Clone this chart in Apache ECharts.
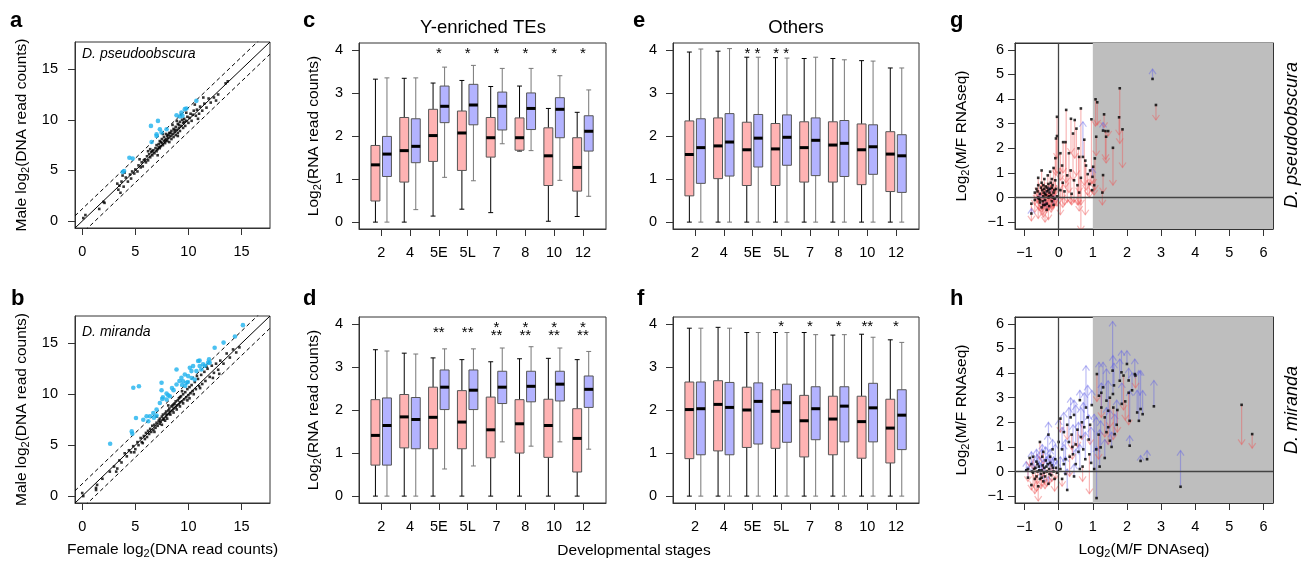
<!DOCTYPE html>
<html><head><meta charset="utf-8">
<script src="https://cdn.jsdelivr.net/npm/echarts@6/dist/echarts.min.js"></script>
<style>html,body{margin:0;padding:0;background:#fff}#c{width:1311px;height:562px}</style>
</head><body><div id="c"></div>
<script>
// ---------------- DATA ----------------
const stages = ['2','4','5E','5L','7','8','10','12'];
const scatterTicks = [0,5,10,15];
const boxTicks = [0,1,2,3,4];
const ratioTicks = [-1,0,1,2,3,4,5,6];

// panel a: D. pseudoobscura, [female, male] log2 DNA read counts
const aOther = [[0.1,0.3],[0.3,0.6],[1.6,1.2],[2.0,1.9],[3.3,3.7],[3.4,3.1],[3.6,2.8],[3.7,3.9],[3.9,3.4],[4.1,4.3],[4.3,3.9],[4.5,4.6],[4.6,4.2],[4.7,4.9],[4.9,4.7],[5.0,5.1],[5.2,4.9],[5.3,5.5],[5.5,5.3],[5.6,5.8],[5.7,5.4],[5.9,6.1],[6.0,5.8],[6.1,6.4],[6.2,6.0],[6.3,6.6],[6.4,6.3],[6.5,6.8],[6.6,6.5],[6.7,7.0],[6.8,6.7],[6.9,7.2],[7.0,6.9],[7.0,7.5],[7.1,7.1],[7.2,7.6],[7.3,7.2],[7.3,7.9],[7.4,7.4],[7.5,7.7],[7.5,8.1],[7.6,7.5],[7.7,7.9],[7.7,8.3],[7.8,7.7],[7.9,8.1],[7.9,8.6],[8.0,7.9],[8.0,8.4],[8.1,8.2],[8.2,8.7],[8.2,7.8],[8.3,8.4],[8.4,8.9],[8.4,8.1],[8.5,8.6],[8.6,9.1],[8.6,8.3],[8.7,8.8],[8.8,9.3],[8.8,8.5],[8.9,9.0],[9.0,9.6],[9.0,8.7],[9.1,9.2],[9.2,9.8],[9.2,8.9],[9.3,9.4],[9.4,10.0],[9.5,9.2],[9.5,9.7],[9.6,10.1],[9.7,9.4],[9.8,9.9],[9.9,10.3],[10.0,9.7],[10.1,10.2],[10.2,10.6],[10.3,9.9],[10.4,10.5],[10.5,10.9],[10.7,10.4],[10.8,11.0],[11.0,10.6],[11.1,11.3],[11.3,10.9],[11.5,11.6],[11.7,11.2],[11.9,12.1],[12.1,11.7],[12.4,12.2],[12.6,11.9],[13.5,13.6],[13.7,13.8],[6.4,7.1],[7.1,6.5],[8.5,9.5],[9.3,10.5],[5.4,6.1],[4.0,4.8],[3.8,4.5],[10.6,11.5],[9.8,10.7],[11.4,12.2],[7.6,8.6],[8.9,9.9],[6.2,6.9],[3.5,3.5],[2.1,1.8],[12.8,12.5],[10.9,10.1],[9.0,8.4],[7.2,7.3],[7.8,8.0],[8.3,8.7],[8.7,9.0],[9.1,9.5],[6.6,6.9],[5.8,6.0],[7.4,7.8],[8.1,8.5],[9.6,9.8]];
const aYTE = [[3.81,4.85],[3.94,4.95],[4.44,6.26],[4.75,6.17],[6.47,9.40],[7.13,9.89],[6.53,7.81],[7.0,8.4],[7.31,9.07],[7.47,8.74],[7.94,9.07],[7.0,8.57],[8.88,10.45],[9.34,10.72],[9.19,10.32],[9.66,11.05],[9.81,11.11],[10.75,11.87],[9.44,10.39]];

// panel b: D. miranda
const bOther = [[0.0,0.3],[0.1,0.0],[1.3,0.8],[1.4,1.1],[1.3,0.6],[1.9,1.7],[2.6,2.4],[3.0,2.9],[3.3,2.7],[3.5,3.5],[3.7,3.3],[4.0,4.2],[4.2,3.9],[4.4,4.5],[4.6,4.3],[4.8,4.9],[5.0,4.6],[5.2,5.3],[5.3,5.0],[5.5,5.7],[5.6,5.3],[5.8,5.9],[5.9,5.6],[6.0,6.2],[6.1,5.8],[6.2,6.4],[6.3,6.1],[6.4,6.6],[6.5,6.3],[6.6,6.9],[6.7,6.5],[6.8,7.0],[6.9,6.7],[7.0,7.2],[7.1,6.9],[7.2,7.4],[7.3,7.1],[7.3,7.6],[7.4,7.3],[7.5,7.8],[7.6,7.5],[7.6,8.0],[7.7,7.6],[7.8,8.1],[7.9,7.8],[7.9,8.3],[8.0,8.0],[8.1,8.4],[8.2,8.1],[8.2,8.6],[8.3,8.3],[8.4,8.8],[8.5,8.4],[8.5,8.9],[8.6,8.6],[8.7,9.1],[8.8,8.7],[8.8,9.3],[8.9,8.9],[9.0,9.4],[9.1,9.0],[9.1,9.6],[9.2,9.2],[9.3,9.8],[9.4,9.3],[9.5,10.0],[9.6,9.5],[9.7,10.2],[9.8,9.7],[9.9,10.5],[10.0,9.9],[10.1,10.7],[10.2,10.1],[10.3,10.9],[10.4,10.3],[10.6,11.2],[10.7,10.5],[10.9,11.5],[11.0,10.8],[11.2,11.9],[11.3,11.0],[11.5,12.2],[11.6,11.3],[11.8,12.5],[12.0,11.7],[12.2,12.8],[12.4,12.1],[12.6,13.0],[12.8,12.4],[13.0,13.3],[13.3,13.0],[13.6,14.0],[13.9,13.6],[14.2,14.4],[14.5,14.1],[14.8,14.6],[8.0,7.6],[8.6,8.2],[9.2,8.8],[9.9,9.4],[10.5,10.0],[11.1,10.6],[12.3,11.6],[12.9,12.0],[7.5,7.0],[6.8,6.3],[5.7,5.2],[4.9,4.3],[3.2,2.4],[8.1,8.9],[9.4,10.3],[10.8,11.8],[11.7,12.7],[7.0,7.8],[8.3,8.0],[8.9,8.5],[9.5,9.1],[10.1,9.6],[7.8,7.4],[8.6,9.0],[9.2,9.7]];
const bYTE = [[2.63,5.13],[4.81,10.63],[5.34,10.79],[5.06,7.66],[4.66,6.35],[4.72,6.12],[5.75,7.5],[6.06,7.83],[6.38,7.83],[6.22,7.34],[6.69,8.16],[7.0,8.49],[7.31,9.14],[7.53,9.54],[7.47,10.39],[7.47,11.12],[7.94,10.07],[7.94,9.47],[8.25,9.8],[8.88,10.95],[8.88,12.43],[9.34,11.61],[9.5,11.28],[9.66,11.94],[9.81,11.12],[9.97,11.78],[10.13,12.6],[10.28,12.27],[10.44,12.76],[10.59,11.45],[10.75,12.27],[10.91,13.26],[11.06,12.76],[11.22,12.43],[11.38,12.93],[11.94,13.42],[12.0,13.09],[12.47,14.57],[13.31,15.07],[14.38,15.66],[15.13,16.78],[9.15,11.3],[9.4,10.9],[9.7,10.8],[10.3,11.6],[9.95,11.2],[8.6,10.4],[8.45,10.6],[8.1,9.9],[7.6,9.7],[7.0,7.9],[6.75,7.7],[11.05,13.3],[11.55,12.8],[11.85,13.1]];

// panels c-f: [min, q1, median, q3, max] per stage
const cFemale = [[0,0.49,1.33,1.78,3.32],[0,0.93,1.66,2.43,3.34],[0.14,1.41,2.01,2.62,3.23],[0.30,1.20,2.07,2.58,3.29],[0.22,1.51,1.96,2.43,3.15],[1.65,1.67,1.96,2.42,3.16],[0.02,0.85,1.54,2.19,2.64],[0.13,0.72,1.27,1.96,2.55]];
const cMale   = [[0,1.06,1.58,1.99,3.35],[0.29,1.38,1.76,2.40,3.35],[1.04,2.31,2.69,3.16,3.60],[0.96,2.26,2.72,3.20,3.64],[1.82,2.14,2.69,3.02,3.57],[1.66,2.15,2.64,3.00,3.57],[0.97,1.96,2.62,2.89,3.40],[0.60,1.65,2.11,2.47,3.07]];
const dFemale = [[0,0.72,1.41,2.24,3.40],[0,1.12,1.84,2.36,3.32],[0,1.10,1.83,2.53,3.21],[0,1.10,1.72,2.45,3.17],[0,0.89,1.54,2.30,3.12],[0,1.00,1.68,2.24,3.19],[0,0.90,1.64,2.25,3.20],[0,0.56,1.34,2.03,3.17]];
const dMale   = [[0,0.72,1.64,2.28,3.37],[0,1.10,1.78,2.29,3.30],[0.63,2.01,2.53,2.93,3.42],[0.70,2.01,2.46,2.93,3.42],[1.26,2.15,2.53,2.90,3.44],[1.16,2.19,2.55,2.90,3.47],[1.26,2.21,2.60,2.90,3.44],[1.09,2.06,2.48,2.79,3.36]];
const eFemale = [[0,0.61,1.57,2.35,3.95],[0,1.01,1.77,2.42,3.97],[0,0.85,1.68,2.32,3.83],[0,0.85,1.70,2.29,3.82],[0,0.93,1.73,2.33,3.80],[0,0.93,1.79,2.33,3.80],[0,0.87,1.68,2.28,3.75],[0,0.71,1.58,2.10,3.58]];
const eMale   = [[0,0.90,1.73,2.40,4.02],[0,1.07,1.86,2.52,4.03],[0,1.28,1.95,2.50,3.83],[0,1.32,1.97,2.49,3.81],[0,1.08,1.90,2.42,3.83],[0,1.06,1.83,2.36,3.77],[0,1.11,1.75,2.26,3.74],[0,0.69,1.54,2.03,3.58]];
const fFemale = [[0,0.87,2.01,2.65,3.90],[0,1.05,2.13,2.68,3.92],[0,1.13,2.00,2.53,3.80],[0,1.11,1.97,2.47,3.80],[0,0.91,1.75,2.34,3.80],[0,0.96,1.79,2.32,3.74],[0,0.88,1.73,2.32,3.76],[0,0.77,1.58,2.25,3.63]];
const fMale   = [[0,0.96,2.03,2.65,3.90],[0,0.96,2.06,2.64,3.90],[0,1.21,2.20,2.63,3.80],[0,1.25,2.17,2.60,3.80],[0,1.31,2.03,2.54,3.75],[0,1.26,2.09,2.54,3.75],[0,1.26,2.05,2.62,3.69],[0,1.08,1.88,2.47,3.57]];

// significance stars: [stage number, y, text]
const cStars = [[3,4.0,'*'],[4,4.0,'*'],[5,4.0,'*'],[6,4.0,'*'],[7,4.0,'*'],[8,4.0,'*']];
const dStars = [[3,3.88,'**'],[4,3.88,'**'],[5,3.99,'*'],[5,3.81,'**'],[6,3.99,'*'],[6,3.81,'**'],[7,3.99,'*'],[7,3.81,'**'],[8,3.99,'*'],[8,3.81,'**']];
const eStars = [[3,4.0,'* *'],[4,4.0,'* *']];
const fStars = [[4,4.01,'*'],[5,4.01,'*'],[6,4.01,'*'],[7,4.01,'**'],[8,4.01,'*']];

// panels g,h: [log2 M/F DNAseq, log2 M/F RNAseq, arrow end]
const gPoints = [[2.75,4.82,5.22],[2.85,3.76,3.15],[1.79,4.44,2.2],[1.77,3.26,2.55],[1.87,2.77,1.22],[1.59,2.02,0.5],[1.08,3.99,2.9],[1.13,3.87,2.95],[1.33,3.38,2.85],[1.30,2.72,3.05],[1.37,2.70,1.55],[1.45,2.70,2.5],[1.39,2.47,1.4],[1.30,0.91,0.2],[1.28,0.2,-0.3],[1.10,2.47,1.7],[1.06,1.59,0.3],[1.01,1.25,0.55],[0.96,3.18,0.55],[0.99,0.84,1.2],[1.04,0.5,0.1],[0.98,0.3,0.2],
[-0.05,3.28,1.6],[0.22,3.56,0.6],[0.65,3.62,-1.35],[0.36,3.2,1.8],[0.47,3.15,1.6],[0.71,1.65,3.08],[0.13,2.25,1.0],[0.2,2.25,0.4],[0.42,2.6,0.7],[0.52,2.8,0.9],[0.6,1.65,0.2],[0.58,2.0,-0.3],[0.78,1.5,-0.7],[0.8,1.3,0.3],[0.85,0.95,0.1],[0.9,0.55,0.0],[0.75,2.35,0.5],[0.3,1.8,0.2],[0.05,1.8,0.7],[-0.05,2.5,1.0],[-0.08,2.4,0.9],[-0.1,1.6,0.2],[0.1,1.3,-0.1],[0.25,0.9,-0.2],[0.35,1.1,-0.25],[0.45,0.7,-0.2],[0.55,0.5,-0.3],[0.65,0.8,-0.3],[0.02,1.0,0.3],[0.12,0.6,-0.4],[0.05,0.3,-0.7],[-0.15,1.2,0.3],[-0.2,0.75,0.0],[0.17,0.25,-0.3],[0.38,0.15,-0.3],[0.6,0.2,-0.55],[0.92,1.1,0.5],
[-0.8,-0.25,-0.95],[-0.8,-0.65,-0.45],[-0.7,0.2,-0.3],[-0.65,0.35,-0.1],[-0.6,0.0,-0.85],[-0.6,0.5,0.0],[-0.55,-0.2,-0.55],[-0.55,0.15,-0.35],[-0.5,0.6,0.1],[-0.5,-0.4,-0.6],[-0.48,0.3,-0.5],[-0.45,0.05,-0.4],[-0.45,-0.3,-0.8],[-0.42,0.75,0.2],[-0.4,0.15,-0.3],[-0.4,-0.1,-1.0],[-0.38,0.45,0.0],[-0.35,-0.25,-0.6],[-0.35,0.25,-0.2],[-0.32,0.9,0.3],[-0.3,0.0,-0.9],[-0.3,0.55,0.05],[-0.28,-0.35,-0.5],[-0.25,0.35,-0.15],[-0.25,1.05,0.4],[-0.22,0.1,-0.6],[-0.2,-0.15,-0.5],[-0.18,0.5,-0.2],[-0.15,0.2,-0.4],[-0.12,-0.05,-0.3],[-0.1,0.7,0.1],[-0.08,0.35,-0.2],[-0.05,0.05,-0.35],[-0.5,1.1,0.4],[-0.6,0.8,0.2],[-0.45,0.5,0.3],[-0.35,-0.5,-0.2],[-0.55,-0.1,0.15],[-0.28,0.05,0.4],[-0.15,-0.3,0.1],[-0.4,-0.3,-0.1],
[-0.62,0.25,-0.2],[-0.52,0.4,-0.1],[-0.44,0.2,-0.25],[-0.37,0.1,-0.45],[-0.33,0.4,-0.3],[-0.27,0.2,-0.35],[-0.23,0.6,-0.1],[-0.17,0.0,-0.45],[-0.13,0.3,-0.15],[-0.58,-0.05,-0.5],[-0.47,-0.15,-0.7],[-0.42,0.35,-0.05],[-0.3,0.3,-0.5],[-0.2,0.4,0.0],[-0.7,-0.1,-0.6]];
const hPoints = [[5.36,2.71,1.1],[5.67,1.52,0.95],[3.57,-0.62,0.85],[2.79,2.65,3.7],[2.59,0.5,0.85],[2.4,0.43,0.65],[2.08,1.05,1.45],
[1.18,3.08,4.44],[1.30,3.42,4.44],[1.40,2.88,4.17],[1.45,2.47,3.69],[1.58,4.1,6.1],[1.59,3.15,4.71],[1.79,3.69,4.57],[1.84,4.03,4.91],[2.0,4.37,4.91],[2.23,3.96,4.57],[2.35,2.06,4.1],[2.4,2.54,4.1],[2.46,2.33,3.29],[2.08,2.06,3.28],[1.11,-1.08,1.0],[1.04,0.1,2.33],[1.23,0.98,2.06],[1.5,1.25,2.5],[1.64,1.52,2.33],
[1.12,3.96,2.85],[1.25,3.2,2.2],[1.5,3.0,1.8],[1.6,2.6,1.3],[1.72,2.5,1.6],[1.9,3.9,2.5],[1.95,2.85,2.1],[2.05,3.2,1.9],[2.25,3.9,3.4],[1.35,2.2,1.4],[1.45,1.8,1.1],[1.17,1.5,0.5],
[1.35,0.55,1.3],[1.2,0.2,1.7],[1.55,1.0,1.6],[1.7,1.9,2.9],[1.85,2.75,3.6],[1.62,3.5,4.4],[2.15,3.3,4.0],[2.3,2.4,3.3],[2.05,3.7,4.2],[1.25,2.6,3.6],[1.4,1.6,2.6],[1.1,0.9,2.2],
[0.0,1.2,2.1],[0.05,2.15,1.6],[0.1,0.9,1.8],[0.15,1.6,2.4],[0.2,0.5,1.3],[0.25,1.9,1.3],[0.3,1.2,2.6],[0.35,2.2,3.0],[0.38,1.5,0.9],[0.42,0.7,1.9],[0.45,2.3,2.9],[0.5,1.1,2.7],[0.55,1.7,1.0],[0.58,0.8,2.0],[0.62,2.9,3.3],[0.65,1.4,2.6],[0.68,2.0,1.3],[0.72,0.9,2.8],[0.75,1.8,3.2],[0.78,0.5,1.6],[0.8,2.6,4.3],[0.85,2.2,3.5],[0.88,1.3,2.3],[0.9,0.7,-0.9],[0.92,1.9,1.1],[0.95,0.35,1.8],[0.97,2.7,3.3],[0.5,0.3,0.9],[0.2,-0.1,0.6],[0.1,-0.3,-0.6],[0.25,-0.75,0.1],[0.45,-0.2,0.3],[0.62,0.1,1.1],[0.32,0.6,-0.2],[0.15,0.3,1.1],[0.05,0.1,0.6],[0.7,0.2,-0.4],[0.4,1.0,0.5],
[-0.95,0.05,0.4],[-0.9,-0.25,0.2],[-0.85,0.55,0.2],[-0.8,-0.55,-0.75],[-0.8,0.3,0.8],[-0.75,-0.05,-0.6],[-0.72,0.1,0.5],[-0.7,-0.3,-0.9],[-0.65,0.4,0.9],[-0.62,0.0,-0.5],[-0.6,-0.6,-1.2],[-0.58,0.2,0.6],[-0.55,1.2,0.5],[-0.52,-0.1,-0.7],[-0.5,0.05,0.9],[-0.48,0.6,1.1],[-0.45,-0.4,0.2],[-0.42,0.15,-0.5],[-0.4,-0.2,-0.7],[-0.38,0.45,1.0],[-0.35,0.0,-0.6],[-0.32,0.3,1.5],[-0.3,-0.5,-0.2],[-0.28,0.1,0.7],[-0.25,0.6,-0.1],[-0.22,-0.15,0.4],[-0.2,0.25,-0.4],[-0.18,0.9,1.3],[-0.15,0.0,0.6],[-0.12,-0.3,-0.8],[-0.1,0.5,1.1],[-0.08,0.15,-0.3],[-0.05,-0.05,0.4],[-0.3,1.5,2.0],[-0.65,-0.2,-0.8],[-0.75,0.6,0.1],[-0.45,0.8,0.3],[-0.55,-0.3,0.3],[-0.25,0.35,0.9],[-0.9,0.1,-0.4],
[-0.68,0.15,-0.3],[-0.57,0.05,0.4],[-0.47,0.25,-0.2],[-0.43,-0.05,0.5],[-0.36,0.2,0.6],[-0.27,-0.1,-0.5],[-0.17,0.15,0.5],[-0.78,0.0,0.35],[-0.62,0.3,0.7],[-0.5,-0.25,-0.6]];

// ---------------- STYLE / LAYOUT ----------------
const FONT = '"Liberation Sans", Arial, Helvetica, sans-serif';
const PINK = '#FFB3B3', BLUE = '#B3B3FF';
const LIM_S = [-0.68, 17.68];
const LIM_B = [-0.16, 4.16];
const LIM_BX = [0.23, 8.8];
const LIM_R = [-1.28, 6.28];
const DASH_OFF = 1.2;

const grids = [
  {left:75, top:42, width:195, height:186},
  {left:75, top:316, width:195, height:187},
  {left:359, top:43, width:247, height:186},
  {left:359, top:317, width:247, height:186},
  {left:673, top:43, width:246, height:186},
  {left:673, top:317, width:246, height:186},
  {left:1015, top:43, width:258, height:186},
  {left:1015, top:317, width:258, height:186}
].map(g => Object.assign(g, {show:true, borderColor:'#333', borderWidth:1, backgroundColor:'transparent', containLabel:false}));

const minus = v => String(v).replace('-', '\u2212');
const nameStyle = {fontSize:15.5, fontFamily:FONT, color:'#000', lineHeight:18,
  rich:{s:{fontSize:11, lineHeight:6, verticalAlign:'bottom', fontFamily:FONT, color:'#000'}}};

function axis(gi, lim, ticks, margin, fmt, extra) {
  return Object.assign({
    type:'value', gridIndex:gi, min:lim[0], max:lim[1],
    axisLine:{show:true, onZero:false, lineStyle:{color:'#333', width:1}},
    axisTick:{show:true, inside:false, length:7, customValues:ticks, lineStyle:{color:'#333', width:1}},
    axisLabel:{show:true, customValues:ticks, margin:margin, color:'#000', fontSize:14.5, fontFamily:FONT, formatter: fmt || minus},
    splitLine:{show:false}
  }, extra || {});
}
const stageFmt = v => stages[Math.round(v) - 1];
function frameAxis(gi, lim, pos) {
  return {type:'value', gridIndex:gi, min:lim[0], max:lim[1], position:pos,
    axisLine:{show:true, onZero:false, lineStyle:{color:'#333', width:1}},
    axisTick:{show:false}, axisLabel:{show:false}, splitLine:{show:false}};
}

const xAxis = [
  axis(0, LIM_S, scatterTicks, 16),
  axis(1, LIM_S, scatterTicks, 16, null, {name:'Female log{s|2}(DNA read counts)', nameLocation:'middle', nameGap:38, nameTextStyle:nameStyle}),
  axis(2, LIM_BX, [1,2,3,4,5,6,7,8], 16, stageFmt),
  axis(3, LIM_BX, [1,2,3,4,5,6,7,8], 16, stageFmt),
  axis(4, LIM_BX, [1,2,3,4,5,6,7,8], 16, stageFmt),
  axis(5, LIM_BX, [1,2,3,4,5,6,7,8], 16, stageFmt),
  axis(6, LIM_R, ratioTicks, 16),
  axis(7, LIM_R, ratioTicks, 16, null, {name:'Log{s|2}(M/F DNAseq)', nameLocation:'middle', nameGap:38, nameTextStyle:nameStyle}),
  frameAxis(6, LIM_R, 'top'),
  frameAxis(7, LIM_R, 'top')
];
const yName = (n, gap) => ({name:n, nameLocation:'middle', nameGap:gap, nameTextStyle:nameStyle});
const yAxis = [
  axis(0, LIM_S, scatterTicks, 17, null, yName('Male log{s|2}(DNA read counts)', 44)),
  axis(1, LIM_S, scatterTicks, 17, null, yName('Male log{s|2}(DNA read counts)', 44)),
  axis(2, LIM_B, boxTicks, 16, null, yName('Log{s|2}(RNA read counts)', 36)),
  axis(3, LIM_B, boxTicks, 16, null, yName('Log{s|2}(RNA read counts)', 36)),
  axis(4, LIM_B, boxTicks, 16),
  axis(5, LIM_B, boxTicks, 16),
  axis(6, LIM_R, ratioTicks, 11, null, yName('Log{s|2}(M/F RNAseq)', 44)),
  axis(7, LIM_R, ratioTicks, 11, null, yName('Log{s|2}(M/F RNAseq)', 44)),
  frameAxis(6, LIM_R, 'right'),
  frameAxis(7, LIM_R, 'right')
];

// ---------------- SERIES ----------------
const series = [];
function refLines(i) {
  [[0, 'solid'], [DASH_OFF, [4,3]], [-DASH_OFF, [4,3]]].forEach(([off, type]) => {
    series.push({type:'line', xAxisIndex:i, yAxisIndex:i, silent:true, clip:true, z:1,
      data:[[LIM_S[0], LIM_S[0] + off], [LIM_S[1], LIM_S[1] + off]],
      symbol:'none', lineStyle:{color:'#000', width:1, type:type}});
  });
}
function scatterPanel(i, other, yte) {
  refLines(i);
  series.push({type:'scatter', xAxisIndex:i, yAxisIndex:i, data:other, symbol:'rect', symbolSize:2.6, itemStyle:{color:'#000'}, z:2, silent:true});
  series.push({type:'scatter', xAxisIndex:i, yAxisIndex:i, data:yte, symbol:'circle', symbolSize:4.6, itemStyle:{color:'#1EB2EE'}, z:3, silent:true});
}
scatterPanel(0, aOther, aYTE);
scatterPanel(1, bOther, bYTE);

function boxSeries(i, vals, off, fill, whisk) {
  series.push({
    type:'custom', xAxisIndex:i, yAxisIndex:i, silent:true, z:2,
    data: vals.map((v, k) => [k + 1].concat(v)),
    renderItem: (params, api) => {
      const x = api.value(0) + off;
      const mn = api.value(1), q1 = api.value(2), md = api.value(3), q3 = api.value(4), mx = api.value(5);
      const hw = 0.155, cw = 0.085;
      const p = (xx, yy) => api.coord([xx, yy]);
      const ln = (a, b, color, w) => ({type:'line', shape:{x1:a[0], y1:a[1], x2:b[0], y2:b[1]}, style:{stroke:color, lineWidth:w}});
      const tl = p(x - hw, q3), br = p(x + hw, q1);
      return {type:'group', children:[
        ln(p(x, mn), p(x, q1), whisk, 1),
        ln(p(x, q3), p(x, mx), whisk, 1),
        ln(p(x - cw, mn), p(x + cw, mn), whisk, 1),
        ln(p(x - cw, mx), p(x + cw, mx), whisk, 1),
        {type:'rect', shape:{x:tl[0], y:tl[1], width:br[0] - tl[0], height:br[1] - tl[1]}, style:{fill:fill, stroke:'#555', lineWidth:1}},
        ln(p(x - hw, md), p(x + hw, md), '#000', 3)
      ]};
    }
  });
}
function starSeries(i, stars, size) {
  series.push({
    type:'custom', xAxisIndex:i, yAxisIndex:i, silent:true, z:3,
    data: stars.map(s => [s[0], s[1]]),
    renderItem: (params, api) => {
      const c = api.coord([api.value(0), api.value(1)]);
      return {type:'text', x:c[0], y:c[1] + 3.5, style:{text:stars[params.dataIndex][2], font:size + 'px ' + FONT, fill:'#000',
        align:'center', verticalAlign:'middle', textAlign:'center', textVerticalAlign:'middle'}};
    }
  });
}
[[2, cFemale, cMale, cStars], [3, dFemale, dMale, dStars], [4, eFemale, eMale, eStars], [5, fFemale, fMale, fStars]].forEach(([i, fem, mal, st]) => {
  boxSeries(i, fem, -0.2, PINK, '#000');
  boxSeries(i, mal, 0.2, BLUE, '#777');
  starSeries(i, st, 15);
});

function ratioPanel(i, pts) {
  series.push({type:'scatter', xAxisIndex:i, yAxisIndex:i, data:[], silent:true, z:1,
    markArea:{silent:true, itemStyle:{color:'#BEBEBE'}, data:[[{xAxis:1}, {xAxis:LIM_R[1]}]]},
    markLine:{silent:true, symbol:'none', label:{show:false}, lineStyle:{color:'#444', width:1.3, type:'solid'},
      data:[{xAxis:0}, {yAxis:0}]}});
  series.push({type:'custom', xAxisIndex:i, yAxisIndex:i, silent:true, clip:true, z:2,
    data: pts,
    renderItem: (params, api) => {
      const x = api.value(0), y = api.value(1), e = api.value(2);
      const a = api.coord([x, y]), b = api.coord([x, e]);
      const up = e > y;
      const col = up ? 'rgba(95,95,230,0.42)' : 'rgba(238,85,85,0.42)';
      const s = up ? 1 : -1;
      return {type:'group', children:[
        {type:'line', shape:{x1:a[0], y1:a[1], x2:b[0], y2:b[1]}, style:{stroke:col, lineWidth:1.2}},
        {type:'polyline', shape:{points:[[b[0] - 3.5, b[1] + s * 5], [b[0], b[1]], [b[0] + 3.5, b[1] + s * 5]]}, style:{stroke:col, lineWidth:1.2, fill:null}}
      ]};
    }});
  series.push({type:'scatter', xAxisIndex:i, yAxisIndex:i, silent:true, z:3,
    data: pts.map(p => [p[0], p[1]]), symbol:'rect', symbolSize:2.6, itemStyle:{color:'#000'}});
}
ratioPanel(6, gPoints);
ratioPanel(7, hPoints);

// ---------------- TEXT ----------------
const txt = (t, x, y, font, align, rot) => ({type:'text', x:x, y:y, rotation:rot || 0, silent:true,
  style:{text:t, font:font, fill:'#000', align:align || 'left', verticalAlign:'middle', textAlign:align || 'left', textVerticalAlign:'middle'}});
const LET = 'bold 22px ' + FONT;
const graphic = [
  txt('a', 10, 20.5, LET), txt('b', 11, 298.5, LET), txt('c', 303, 20.5, LET), txt('d', 303, 298.5, LET),
  txt('e', 633, 20.5, LET), txt('f', 637, 298.5, LET), txt('g', 950, 20.5, LET), txt('h', 950, 298.5, LET),
  txt('Y-enriched TEs', 483, 27.5, '18.5px ' + FONT, 'center'),
  txt('Others', 796, 27.5, '18.5px ' + FONT, 'center'),
  txt('Developmental stages', 634, 550.5, '15.5px ' + FONT, 'center'),
  txt('D. pseudoobscura', 82, 54, 'italic 14px ' + FONT, 'left'),
  txt('D. miranda', 82, 332.5, 'italic 14px ' + FONT, 'left'),
  txt('D. pseudoobscura', 1292, 135, 'italic 18px ' + FONT, 'center', Math.PI / 2),
  txt('D. miranda', 1292, 410, 'italic 18px ' + FONT, 'center', Math.PI / 2)
];

const chart = echarts.init(document.getElementById('c'), null, {renderer:'canvas'});
chart.setOption({animation:false, backgroundColor:'#fff', textStyle:{fontFamily:FONT}, grid:grids, xAxis:xAxis, yAxis:yAxis, series:series, graphic:graphic});
</script></body></html>
